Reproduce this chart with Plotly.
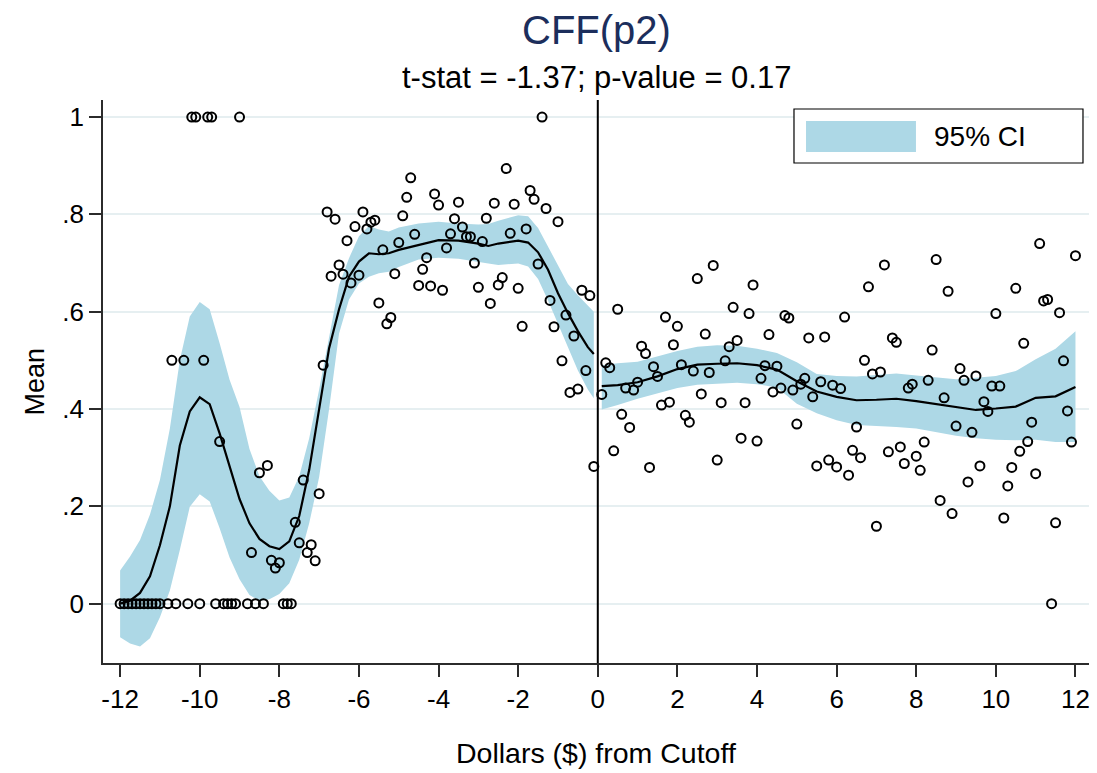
import plotly.graph_objects as go

# ---------------- data ----------------
CUTOFF = 0.0

# binned means, left of cutoff
left_x = [-12.0, -11.9, -11.8, -11.7, -11.6, -11.5, -11.4, -11.3, -11.2, -11.1, -11.0,
          -10.8, -10.7, -10.6, -10.4, -10.3, -10.2, -10.1, -10.0, -9.9, -9.8, -9.7, -9.6,
          -9.5, -9.4, -9.3, -9.2, -9.1, -9.0, -8.8, -8.7, -8.6, -8.5, -8.4, -8.3, -8.2,
          -8.1, -8.0, -7.9, -7.8, -7.7, -7.6, -7.5, -7.4, -7.3, -7.2, -7.1, -7.0, -6.9,
          -6.8, -6.7, -6.6, -6.5, -6.4, -6.3, -6.2, -6.1, -6.0, -5.9, -5.8, -5.7, -5.6,
          -5.5, -5.4, -5.3, -5.2, -5.1, -5.0, -4.9, -4.8, -4.7, -4.6, -4.5, -4.4, -4.3,
          -4.2, -4.1, -4.0, -3.9, -3.8, -3.7, -3.6, -3.5, -3.4, -3.3, -3.2, -3.1, -3.0,
          -2.9, -2.8, -2.7, -2.6, -2.5, -2.4, -2.3, -2.2, -2.1, -2.0, -1.9, -1.8, -1.7,
          -1.6, -1.5, -1.4, -1.3, -1.2, -1.1, -1.0, -0.9, -0.8, -0.7, -0.6, -0.5, -0.4,
          -0.3, -0.2, -0.1]
left_y = [0, 0, 0, 0, 0, 0, 0, 0, 0, 0, 0,
          0, 0.5, 0, 0.5, 0, 1, 1, 0, 0.5, 1, 1, 0,
          0.333, 0, 0, 0, 0, 1, 0, 0.105, 0, 0.269, 0, 0.284, 0.089,
          0.073, 0.084, 0, 0, 0, 0.167, 0.125, 0.254, 0.105, 0.121, 0.088, 0.226, 0.49,
          0.805, 0.673, 0.79, 0.696, 0.677, 0.746, 0.659, 0.775, 0.675, 0.805, 0.770, 0.784, 0.788,
          0.618, 0.727, 0.575, 0.588, 0.678, 0.742, 0.797, 0.835, 0.875, 0.759, 0.654, 0.687, 0.711,
          0.653, 0.842, 0.819, 0.644, 0.731, 0.760, 0.791, 0.825, 0.774, 0.754, 0.754, 0.700, 0.650,
          0.744, 0.792, 0.617, 0.823, 0.655, 0.670, 0.894, 0.761, 0.821, 0.648, 0.570, 0.770, 0.849,
          0.831, 0.698, 1.0, 0.812, 0.623, 0.569, 0.785, 0.499, 0.593, 0.434, 0.550, 0.441, 0.644,
          0.479, 0.633, 0.282]

# binned means, right of cutoff
right_x = [0.1, 0.2, 0.3, 0.4, 0.5, 0.6, 0.7, 0.8, 0.9, 1.0, 1.1, 1.2, 1.3, 1.4, 1.5, 1.6,
           1.7, 1.8, 1.9, 2.0, 2.1, 2.2, 2.3, 2.4, 2.5, 2.6, 2.7, 2.8, 2.9, 3.0, 3.1, 3.2,
           3.3, 3.4, 3.5, 3.6, 3.7, 3.8, 3.9, 4.0, 4.1, 4.2, 4.3, 4.4, 4.5, 4.6, 4.7, 4.8,
           4.9, 5.0, 5.1, 5.2, 5.3, 5.4, 5.5, 5.6, 5.7, 5.8, 5.9, 6.0, 6.1, 6.2, 6.3, 6.4,
           6.5, 6.6, 6.7, 6.8, 6.9, 7.0, 7.1, 7.2, 7.3, 7.4, 7.5, 7.6, 7.7, 7.8, 7.9, 8.0,
           8.1, 8.2, 8.3, 8.4, 8.5, 8.6, 8.7, 8.8, 8.9, 9.0, 9.1, 9.2, 9.3, 9.4, 9.5, 9.6,
           9.7, 9.8, 9.9, 10.0, 10.1, 10.2, 10.3, 10.4, 10.5, 10.6, 10.7, 10.8, 10.9, 11.0,
           11.1, 11.2, 11.3, 11.4, 11.5, 11.6, 11.7, 11.8, 11.9, 12.0]
right_y = [0.430, 0.495, 0.485, 0.314, 0.605, 0.389, 0.443, 0.362, 0.439, 0.455, 0.529, 0.514,
           0.280, 0.487, 0.467, 0.408, 0.589, 0.414, 0.532, 0.570, 0.491, 0.387, 0.373, 0.478,
           0.668, 0.431, 0.554, 0.475, 0.695, 0.295, 0.413, 0.499, 0.528, 0.609, 0.541, 0.340,
           0.413, 0.596, 0.655, 0.334, 0.463, 0.489, 0.553, 0.435, 0.488, 0.443, 0.592, 0.587,
           0.439, 0.369, 0.451, 0.463, 0.546, 0.425, 0.283, 0.456, 0.548, 0.295, 0.449, 0.281,
           0.442, 0.589, 0.264, 0.315, 0.363, 0.300, 0.500, 0.651, 0.472, 0.159, 0.476, 0.696,
           0.312, 0.546, 0.537, 0.322, 0.288, 0.443, 0.451, 0.303, 0.274, 0.332, 0.459, 0.521,
           0.707, 0.212, 0.423, 0.642, 0.185, 0.365, 0.483, 0.459, 0.250, 0.352, 0.468, 0.283,
           0.415, 0.395, 0.447, 0.596, 0.447, 0.176, 0.242, 0.280, 0.648, 0.313, 0.535, 0.333,
           0.373, 0.267, 0.740, 0.622, 0.625, 0.0, 0.166, 0.598, 0.499, 0.396, 0.332, 0.715]

# local polynomial fit and 95% CI, left of cutoff
fitL_x = [-12.0, -11.75, -11.5, -11.25, -11.0, -10.75, -10.5, -10.25, -10.0, -9.75, -9.5,
          -9.25, -9.0, -8.75, -8.5, -8.25, -8.0, -7.75, -7.5, -7.25, -7.0, -6.75, -6.5,
          -6.25, -6.0, -5.75, -5.5, -5.25, -5.0, -4.5, -4.0, -3.5, -3.0, -2.75, -2.5,
          -2.0, -1.75, -1.5, -1.25, -1.0, -0.75, -0.5, -0.25, -0.1]
fitL_y = [0.0, 0.006, 0.022, 0.056, 0.12, 0.20, 0.325, 0.395, 0.424, 0.41, 0.35,
          0.28, 0.215, 0.165, 0.133, 0.118, 0.112, 0.128, 0.18, 0.275, 0.40, 0.525, 0.605,
          0.672, 0.703, 0.720, 0.718, 0.720, 0.727, 0.737, 0.747, 0.746, 0.740, 0.735, 0.740,
          0.746, 0.742, 0.722, 0.686, 0.638, 0.597, 0.560, 0.527, 0.513]
ciL_hi = [0.068, 0.097, 0.131, 0.183, 0.254, 0.36, 0.50, 0.59, 0.620, 0.605, 0.535,
          0.46, 0.404, 0.318, 0.262, 0.232, 0.212, 0.218, 0.262, 0.34, 0.44, 0.55, 0.655,
          0.71, 0.755, 0.776, 0.769, 0.765, 0.773, 0.781, 0.785, 0.781, 0.779, 0.780, 0.787,
          0.798, 0.796, 0.772, 0.733, 0.693, 0.657, 0.634, 0.614, 0.600]
ciL_lo = [-0.069, -0.082, -0.088, -0.071, -0.028, 0.027, 0.11, 0.199, 0.225, 0.21, 0.155,
          0.095, 0.05, 0.018, 0.006, 0.009, 0.02, 0.042, 0.09, 0.165, 0.26, 0.40, 0.555,
          0.625, 0.658, 0.672, 0.679, 0.682, 0.692, 0.707, 0.711, 0.709, 0.702, 0.699, 0.696,
          0.699, 0.693, 0.667, 0.623, 0.575, 0.527, 0.479, 0.440, 0.422]

# local polynomial fit and 95% CI, right of cutoff
fitR_x = [0.1, 0.5, 1.0, 1.5, 2.0, 2.5, 3.0, 3.5, 4.0, 4.5, 5.0, 5.5, 6.0, 6.5, 7.0,
          7.5, 8.0, 8.5, 9.0, 9.5, 10.0, 10.5, 11.0, 11.5, 12.0]
fitR_y = [0.447, 0.449, 0.455, 0.467, 0.482, 0.491, 0.493, 0.494, 0.490, 0.481, 0.457,
          0.436, 0.425, 0.418, 0.419, 0.421, 0.416, 0.410, 0.403, 0.398, 0.401, 0.405,
          0.423, 0.426, 0.445]
ciR_hi = [0.490, 0.494, 0.497, 0.508, 0.519, 0.528, 0.531, 0.530, 0.524, 0.515, 0.496,
          0.472, 0.468, 0.467, 0.470, 0.473, 0.469, 0.465, 0.461, 0.464, 0.468, 0.478,
          0.502, 0.524, 0.560]
ciR_lo = [0.399, 0.408, 0.421, 0.432, 0.443, 0.450, 0.452, 0.454, 0.451, 0.444, 0.411,
          0.391, 0.377, 0.367, 0.365, 0.363, 0.360, 0.353, 0.345, 0.340, 0.337, 0.336,
          0.337, 0.332, 0.332]

x_ticks = [-12, -10, -8, -6, -4, -2, 0, 2, 4, 6, 8, 10, 12]
x_ticktext = ["-12", "-10", "-8", "-6", "-4", "-2", "0", "2", "4", "6", "8", "10", "12"]
y_ticks = [0, 0.2, 0.4, 0.6, 0.8, 1.0]
y_ticktext = ["0", ".2", ".4", ".6", ".8", "1"]

TITLE = "CFF(p2)"
SUBTITLE = "t-stat = -1.37; p-value = 0.17"
X_TITLE = "Dollars ($) from Cutoff"
Y_TITLE = "Mean"
LEGEND_LABEL = "95% CI"

# ---------------- styling ----------------
FONT = "Liberation Sans, Arial, Helvetica, sans-serif"
BAND = "#add8e6"
AXIS = "#2b2b2b"
GRID = "#e6eff1"

fig = go.Figure()

for bx, hi, lo in [(fitL_x, ciL_hi, ciL_lo), (fitR_x, ciR_hi, ciR_lo)]:
    fig.add_trace(go.Scatter(
        x=list(bx) + list(bx)[::-1],
        y=list(hi) + list(lo)[::-1],
        fill="toself", fillcolor=BAND, mode="lines",
        line=dict(width=0, color=BAND), hoverinfo="skip", showlegend=False))

for px, py in [(left_x, left_y), (right_x, right_y)]:
    fig.add_trace(go.Scatter(
        x=px, y=py, mode="markers",
        marker=dict(symbol="circle-open", size=9, color="black",
                    line=dict(width=2, color="black")),
        showlegend=False))

for fx, fy in [(fitL_x, fitL_y), (fitR_x, fitR_y)]:
    fig.add_trace(go.Scatter(
        x=fx, y=fy, mode="lines", line=dict(color="black", width=2.2),
        showlegend=False))

# cutoff line
fig.add_shape(type="line", xref="x", yref="paper", x0=CUTOFF, x1=CUTOFF, y0=0, y1=1,
              line=dict(color="black", width=2), layer="above")

# legend (boxed, Stata style)
fig.add_shape(type="rect", xref="paper", yref="paper", x0=0.7008, x1=0.9939, y0=0.8881, y1=0.9840,
              line=dict(color="black", width=1.2), fillcolor="white", layer="above")
fig.add_shape(type="rect", xref="paper", yref="paper", x0=0.7130, x1=0.8245, y0=0.9076, y1=0.9627,
              line=dict(width=0), fillcolor=BAND, layer="above")

annotations = [
    dict(text=TITLE, x=0.5, y=1.1243, xref="paper", yref="paper", showarrow=False,
         xanchor="center", yanchor="middle", font=dict(size=40, color="#1c2e5c", family=FONT)),
    dict(text=SUBTITLE, x=0.5, y=1.0400, xref="paper", yref="paper", showarrow=False,
         xanchor="center", yanchor="middle", font=dict(size=31, color="black", family=FONT)),
    dict(text=X_TITLE, x=0.5, y=-0.1599, xref="paper", yref="paper", showarrow=False,
         xanchor="center", yanchor="middle", font=dict(size=28.5, color="black", family=FONT)),
    dict(text=Y_TITLE, x=-0.069, y=0.5, xref="paper", yref="paper", showarrow=False,
         textangle=-90, xanchor="center", yanchor="middle",
         font=dict(size=27, color="black", family=FONT)),
    dict(text=LEGEND_LABEL, x=0.8408, y=0.936, xref="paper", yref="paper", showarrow=False,
         xanchor="left", yanchor="middle", font=dict(size=28, color="black", family=FONT)),
]

fig.update_layout(
    width=1097, height=773,
    margin=dict(l=103, r=8, t=100, b=110),
    plot_bgcolor="white", paper_bgcolor="white",
    showlegend=False,
    font=dict(family=FONT, color="black"),
    annotations=annotations,
    xaxis=dict(range=[-12.43, 12.34], tickmode="array", tickvals=x_ticks, ticktext=x_ticktext,
               ticks="outside", ticklen=12, tickwidth=1.5, tickcolor=AXIS,
               showline=True, linecolor=AXIS, linewidth=1.5,
               showgrid=False, zeroline=False,
               tickfont=dict(size=26, color="black", family=FONT)),
    yaxis=dict(range=[-0.122, 1.035], tickmode="array", tickvals=y_ticks, ticktext=y_ticktext,
               ticks="outside", ticklen=12, tickwidth=1.5, tickcolor=AXIS,
               showline=True, linecolor=AXIS, linewidth=1.5,
               showgrid=True, gridcolor=GRID, gridwidth=2, zeroline=False,
               tickfont=dict(size=26, color="black", family=FONT)),
)

fig.write_html("out.html")
